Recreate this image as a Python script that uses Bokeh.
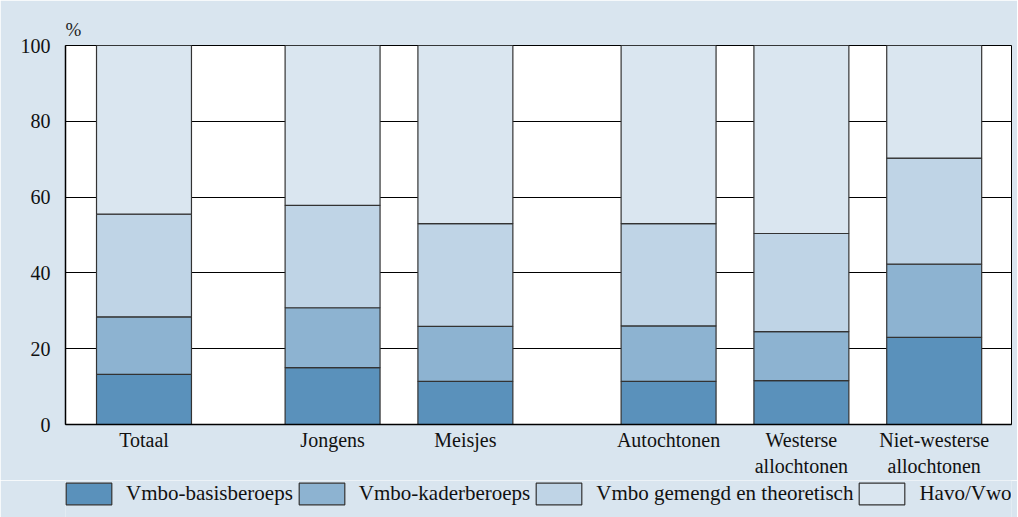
from bokeh.plotting import figure
from bokeh.models import ColumnDataSource, FixedTicker, Legend, Range1d
from bokeh.layouts import column
from bokeh.embed import file_html
from bokeh.resources import INLINE

categories = ["Totaal", "Jongens", "Meisjes", "Autochtonen",
              "Westerse\nallochtonen", "Niet-westerse\nallochtonen"]
groups = [0, 1, 1, 2, 2, 2]
series_names = ["Vmbo-basisberoeps", "Vmbo-kaderberoeps",
                "Vmbo gemengd en theoretisch", "Havo/Vwo"]
basis = [13.2, 15.0, 11.4, 11.4, 11.6, 23.0]
kader = [15.2, 15.8, 14.5, 14.6, 12.9, 19.3]
gemengd = [27.1, 27.0, 27.1, 27.0, 25.9, 28.0]
havo = [44.5, 42.2, 47.0, 47.0, 49.6, 29.7]
y_ticks = [0, 20, 40, 60, 80, 100]

colors = ["#5a91bb", "#8db3d1", "#bfd4e6", "#dae6f0"]
BG = "#d9e5ef"
FONT = "Liberation Serif"
LINE = "#333333"
stack_cols = ["basis", "kader", "gemengd", "havo"]

# x positions: one unit per bar, extra gap between groups
group_extra = {0: 0.0, 1: 0.42, 2: 0.95}
xpos = [i + group_extra[g] for i, g in enumerate(groups)]

source = ColumnDataSource(dict(x=xpos, basis=basis, kader=kader,
                               gemengd=gemengd, havo=havo))

p = figure(width=1017, height=480, output_backend="svg", toolbar_location=None,
           x_range=Range1d(-0.591, 6.532), y_range=Range1d(0, 100),
           min_border_left=65, min_border_right=6, min_border_top=45,
           min_border_bottom=56, title="%")

p.background_fill_color = "white"
p.border_fill_color = BG
p.outline_line_color = "black"
p.outline_line_width = 1

p.title.text_font = FONT
p.title.text_font_size = "19px"
p.title.text_font_style = "normal"
p.title.text_color = "#222222"
p.title.align = "left"
p.title.offset = 0
p.title.standoff = 12

renderers = p.vbar_stack(stack_cols, x="x", width=0.715, source=source,
                         color=colors, line_color=LINE, line_width=1.2)

# axes
p.xaxis.ticker = FixedTicker(ticks=xpos)
p.xaxis.major_label_overrides = {x: c for x, c in zip(xpos, categories)}
p.yaxis.ticker = FixedTicker(ticks=y_ticks)
for ax in (p.xaxis, p.yaxis):
    ax.major_label_text_font = FONT
    ax.major_label_text_font_size = "20px"
    ax.major_label_text_color = "#111111"
    ax.axis_line_color = "black"
    ax.axis_line_width = 1.5
    ax.major_tick_line_color = None
    ax.minor_tick_line_color = None
p.yaxis.major_label_standoff = 9
p.xaxis.major_label_standoff = -2

p.xgrid.grid_line_color = None
p.ygrid.grid_line_color = "black"
p.ygrid.grid_line_width = 1

# legend strip below the chart (its bars lie outside its visible y range)
lg = figure(width=1017, height=37, output_backend="svg", toolbar_location=None,
            x_range=Range1d(-0.591, 6.532), y_range=Range1d(200, 300),
            min_border_left=65, min_border_right=6, min_border_top=0,
            min_border_bottom=0)
lg.axis.visible = False
lg.grid.visible = False
lg.outline_line_color = None
lg.background_fill_color = BG
lg.border_fill_color = BG
leg_renderers = lg.vbar_stack(stack_cols, x="x", width=0.715, source=source,
                              color=colors, line_color=LINE, line_width=1.2)
legend = Legend(items=[(n, [r]) for n, r in zip(series_names, leg_renderers)],
                orientation="horizontal", location=(-5, 10))
legend.glyph_width = 57
legend.glyph_height = 27
legend.label_standoff = 9
legend.spacing = 0
legend.padding = 0
legend.margin = 0
legend.border_line_color = None
legend.background_fill_alpha = 0
legend.label_text_font = FONT
legend.label_text_font_size = "21px"
legend.label_text_color = "#111111"
legend.label_height = 27
lg.add_layout(legend, "center")

layout = column(p, lg, spacing=0)
open("out.html", "w").write(file_html(layout, INLINE))
